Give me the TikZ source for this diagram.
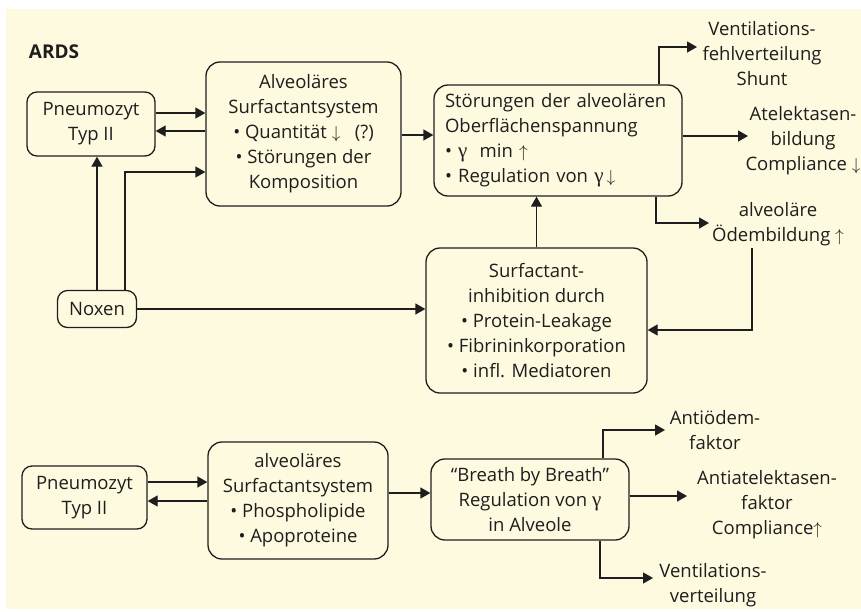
\documentclass[tikz,border=0pt]{standalone}
\usepackage{fontspec}
\setmainfont{Open Sans}
\newfontfamily\symf{Liberation Serif}
\usetikzlibrary{arrows.meta,calc}
\definecolor{cream}{RGB}{254,250,224}
\definecolor{ink}{RGB}{30,30,30}
\newcommand{\gam}{{\fontsize{21}{25}\selectfont\symf γ}}
\newcommand{\up}{\ensuremath{\uparrow}}
\newcommand{\dn}{\ensuremath{\downarrow}}
\begin{document}
\begin{tikzpicture}[x=1pt,y=-1pt,
  every node/.style={font=\fontsize{18.5}{25}\selectfont, text=ink},
  box/.style={draw=ink, line width=1.3pt, rounded corners=14pt, fill=cream, align=center, inner sep=0pt},
  sbox/.style={box, rounded corners=10pt},
  lbl/.style={align=center, inner sep=0pt},
  arr/.style={draw=ink, line width=1.3pt, -{Triangle[length=10pt,width=11pt]}}]
% background
\useasboundingbox (0,0) rectangle (861,611);
\fill[white] (0,0) rectangle (861,611);
\fill[cream] (6,9) rectangle (861,609);

\node[font=\fontsize{19}{25}\selectfont\bfseries] (ards) at (54,52) {ARDS};

% upper diagram
\node[sbox, minimum width=128pt, minimum height=64pt] (p1) at (91,124) {Pneumozyt\\Typ II};
\node[box, minimum width=195pt, minimum height=144pt] (a1) at (303.5,134)
  {Alveoläres\\Surfactantsystem\\• Quantität \dn\ \ \ (?)\\• Störungen der\\Komposition};
\node[sbox, minimum width=79pt, minimum height=37pt] (nox) at (97,309) {Noxen};
\node[box, minimum width=248pt, minimum height=111pt, align=left, text width=226pt] (st) at (558,140.5)
  {Störungen der alveolären\\Oberflächenspannung\\• \gam\ \ min \up\\• Regulation von \gam\,\dn};
\node[box, minimum width=221pt, minimum height=145pt] (inh) at (536.5,320.5)
  {Surfactant-\\inhibition durch\\• Protein-Leakage\\• Fibrininkorporation\\• infl. Mediatoren};

\node[lbl] (vent) at (762,54) {Ventilations-\\fehlverteilung\\Shunt};
\node[lbl] (atel) at (803,141) {Atelektasen-\\bildung\\Compliance \dn};
\node[lbl] (oed) at (778,224) {alveoläre\\Ödembildung \up};

% lower diagram
\node[sbox, minimum width=125pt, minimum height=63pt] (p2) at (84.5,497.5) {Pneumozyt\\Typ II};
\node[box, minimum width=180pt, minimum height=117pt] (a2) at (298,500.5)
  {alveoläres\\Surfactantsystem\\• Phospholipide\\• Apoproteine};
\node[box, minimum width=198pt, minimum height=81pt] (br) at (530,499.5)
  {“Breath by Breath”\\Regulation von \gam\\in Alveole};

\node[lbl] (anti) at (715,430) {Antiödem-\\faktor};
\node[lbl] (antat) at (767,505) {Antiatelektasen-\\faktor\\Compliance\up};
\node[lbl] (ventv) at (713,585) {Ventilations-\\verteilung};

% arrow levels and free ends
\coordinate (y113) at (0,113);
\coordinate (y131) at (0,131);
\coordinate (y172) at (0,172);
\coordinate (y330) at (0,330);
\coordinate (y482) at (0,482);
\coordinate (y501) at (0,501);
\coordinate (vx) at (659,0);
\coordinate (ox) at (656,0);
\coordinate (nx) at (125,0);
\coordinate (ventE) at (697,47);
\coordinate (atelE) at (748,136);
\coordinate (oedE) at (709,223);
\coordinate (oedS) at (752,248);
\coordinate (antiX) at (603,0);
\coordinate (antiE) at (665,430);
\coordinate (antatE) at (687,496);
\coordinate (vvX) at (600,0);
\coordinate (ventvE) at (653,578);

% upper connectors
\draw[arr] (p1.east |- y113) -- (a1.west |- y113);
\draw[arr] (a1.west |- y131) -- (p1.east |- y131);
\draw[arr] (nox.north) -- (nox.north |- p1.south);
\draw[arr] (nox.north -| nx) |- (a1.west |- y172);
\draw[arr] (nox.east) -- (nox.east -| inh.west);
\draw[arr] (a1.east |- 0,135) -- (st.west |- 0,135);
\draw[arr] (inh.north) -- (inh.north |- st.south);
\draw[arr] (st.north -| vx) |- (ventE);
\draw[arr] (st.east |- atelE) -- (atelE);
\draw[arr] (st.south -| ox) |- (oedE);
\draw[arr] (oedS) |- (inh.east |- y330);

% lower connectors
\draw[arr] (p2.east |- y482) -- (a2.west |- y482);
\draw[arr] (a2.west |- y501) -- (p2.east |- y501);
\draw[arr] (a2.east |- 0,493) -- (br.west |- 0,493);
\draw[arr] (br.north -| antiX) |- (antiE);
\draw[arr] (br.east |- antatE) -- (antatE);
\draw[arr] (br.south -| vvX) |- (ventvE);
\end{tikzpicture}
\end{document}
